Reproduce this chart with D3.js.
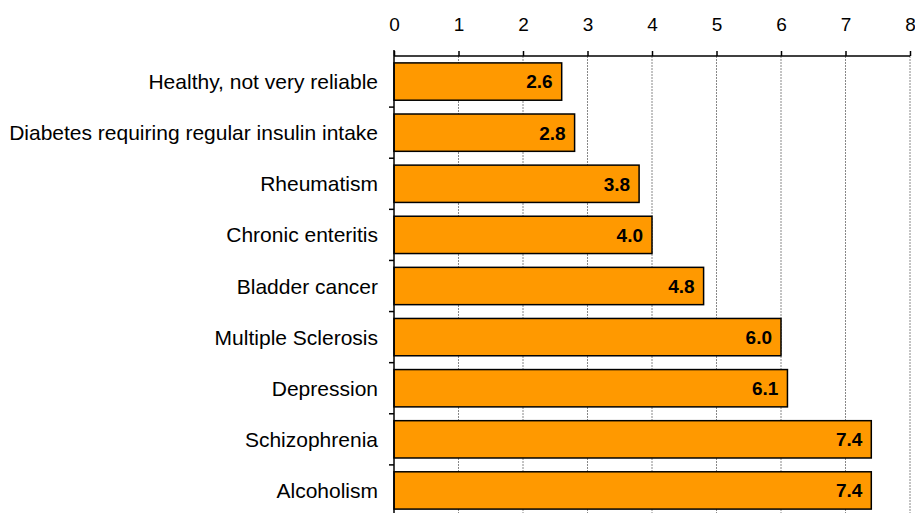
<!DOCTYPE html>
<html><head><meta charset="utf-8">
<script src="https://cdn.jsdelivr.net/npm/d3@7"></script>
<style>body{margin:0;background:#fff}svg{display:block}</style>
</head><body>
<script>
const categories = ["Healthy, not very reliable","Diabetes requiring regular insulin intake","Rheumatism","Chronic enteritis","Bladder cancer","Multiple Sclerosis","Depression","Schizophrenia","Alcoholism"];
const values = [2.6, 2.8, 3.8, 4.0, 4.8, 6.0, 6.1, 7.4, 7.4];
const xTicks = [0,1,2,3,4,5,6,7,8];

const W = 915, H = 513;
const svg = d3.select("body").append("svg").attr("width", W).attr("height", H);
const font = "Liberation Sans, Arial, sans-serif";

const x = d3.scaleLinear().domain([0, 8]).range([394, 910]);
const y = d3.scaleBand().domain(categories).range([56, 516]).paddingInner(0.27).paddingOuter(0.135);

// gridlines
svg.append("g").selectAll("line").data(xTicks.slice(1)).join("line")
  .attr("x1", d => x(d)).attr("x2", d => x(d))
  .attr("y1", 56).attr("y2", H)
  .attr("stroke", "#888").attr("stroke-width", 1).attr("stroke-dasharray", "2,1");

// bars
svg.append("g").selectAll("rect").data(values).join("rect")
  .attr("x", x(0)).attr("y", (d, i) => y(categories[i]))
  .attr("width", d => x(d) - x(0)).attr("height", y.bandwidth())
  .attr("fill", "#FF9900").attr("stroke", "#000").attr("stroke-width", 1.5);

// value labels
svg.append("g").selectAll("text").data(values).join("text")
  .attr("x", d => x(d) - 9).attr("y", (d, i) => y(categories[i]) + y.bandwidth() / 2)
  .attr("dy", "0.36em").attr("text-anchor", "end")
  .attr("font-family", font).attr("font-size", 19).attr("font-weight", "bold")
  .text(d => d.toFixed(1));

// top axis
const xAxis = svg.append("g").attr("transform", "translate(0,56)")
  .call(d3.axisTop(x).tickValues(xTicks).tickSize(5).tickPadding(20).tickFormat(d3.format("d")));
xAxis.select(".domain").attr("stroke", "#000").attr("stroke-width", 1.5).attr("d", `M${x(0)},0H${x(8)}`);
xAxis.selectAll(".tick line").attr("stroke", "#000").attr("stroke-width", 1.5);
xAxis.selectAll("text").attr("font-family", font).attr("font-size", 19).attr("fill", "#000");

// left axis
const yAxisG = svg.append("g").attr("transform", `translate(${x(0)},0)`);
yAxisG.append("line").attr("x1", 0).attr("x2", 0).attr("y1", 50).attr("y2", H).attr("stroke", "#000").attr("stroke-width", 1.5);
const step = y.step();
svg.append("g").selectAll("line").data(categories).join("line")
  .attr("x1", x(0) - 5).attr("x2", x(0))
  .attr("y1", c => y(c) + y.bandwidth() + (step - y.bandwidth()) / 2)
  .attr("y2", c => y(c) + y.bandwidth() + (step - y.bandwidth()) / 2)
  .attr("stroke", "#000").attr("stroke-width", 1.5);
svg.append("g").selectAll("text").data(categories).join("text")
  .attr("x", 378).attr("y", c => y(c) + y.bandwidth() / 2).attr("dy", "0.36em")
  .attr("text-anchor", "end").attr("font-family", font).attr("font-size", 21).attr("fill", "#000")
  .text(c => c);
</script>
</body></html>
